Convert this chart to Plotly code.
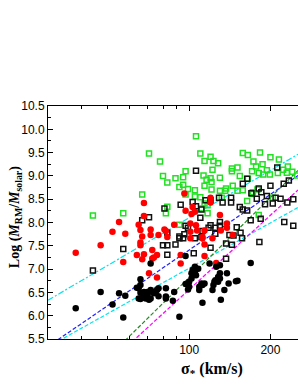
import math
import plotly.graph_objects as go

# ---- data (sigma in km/s, log M) ----
green_sigma = [44, 57, 67, 71, 106, 78, 110, 114, 120, 123, 128, 122, 97, 80, 89, 95, 83, 92, 95,
               113, 116, 120, 121, 130, 99, 105, 114, 130, 136, 145, 144, 144, 151, 158, 165, 183,
               200, 215, 232, 187, 173, 177, 171, 154, 165, 181, 188, 194, 199, 223, 230, 241, 251,
               213, 151, 158, 164, 171, 179, 132, 114, 110, 111, 105, 83, 82, 97, 117, 204, 181, 92,
               121, 137, 172, 117]
green_logm = [8.15, 8.20, 8.60, 9.48, 9.85, 9.31, 9.48, 9.32, 9.41, 9.32, 9.27, 9.13, 9.10, 9.00, 8.95,
              8.97, 8.86, 8.76, 8.81, 9.01, 8.92, 8.95, 8.87, 8.96, 8.72, 8.69, 8.79, 8.68, 8.68, 8.79,
              9.16, 9.10, 9.18, 9.49, 9.45, 9.50, 9.40, 9.35, 9.20, 9.25, 9.31, 9.20, 9.10, 9.00, 8.94,
              9.06, 9.03, 9.12, 9.03, 9.13, 9.07, 9.09, 9.01, 9.06, 8.68, 8.69, 8.46, 8.61, 8.71, 8.53,
              8.41, 8.54, 8.30, 8.56, 8.34, 8.20, 8.60, 8.20, 8.53, 8.16, 7.95, 8.71, 8.73, 8.65, 8.37]

bsq_sigma = [106, 158, 164, 170, 185, 200, 212, 224, 234, 243, 231, 218, 194, 178, 181, 154, 158, 164,
             169, 184, 191, 204, 209, 225, 243, 133, 143, 143, 129, 120, 115, 103, 106, 111, 93, 81,
             71, 110, 120, 125, 130, 130, 150, 141, 125, 118, 112, 96, 92, 97, 99, 83, 92, 95, 80, 83,
             89, 83, 105, 111, 104, 120, 137, 137, 144, 155, 157, 146, 182, 57, 44, 67]
bsq_logm = [9.11, 8.83, 8.94, 8.63, 8.65, 8.79, 9.18, 8.83, 8.90, 8.50, 8.43, 8.51, 8.57, 8.51, 8.73,
            8.33, 8.28, 8.26, 8.05, 8.08, 8.39, 8.41, 8.53, 8.01, 7.93, 8.43, 8.53, 8.43, 8.53, 8.48,
            8.48, 8.44, 8.35, 8.28, 8.38, 8.30, 8.11, 8.10, 7.94, 7.89, 7.93, 8.01, 7.90, 7.73, 7.76,
            7.89, 7.82, 7.75, 7.70, 7.93, 7.89, 7.78, 7.66, 7.66, 7.51, 7.51, 7.53, 7.31, 7.66, 7.69,
            7.34, 7.46, 7.22, 7.55, 7.52, 7.78, 7.66, 7.72, 7.58, 7.43, 6.97, 8.05]

red_sigma = [68, 52, 55, 58, 65, 66, 68, 72, 72, 38, 47, 66, 66, 64, 67, 68, 57, 71, 67, 73, 73, 76,
             77, 76, 81, 82, 88, 97, 103, 102, 105, 120, 120, 130, 138, 101, 106, 96, 101, 107, 114,
             112, 101, 122, 131, 138, 145, 83, 74, 93, 93, 112, 114, 126, 114]
red_logm = [8.42, 7.80, 8.01, 7.76, 7.95, 7.84, 8.14, 7.85, 7.73, 7.35, 7.51, 7.51, 7.57, 7.30, 7.21,
            7.32, 7.15, 6.91, 7.70, 7.41, 7.23, 7.30, 7.73, 6.82, 7.85, 7.82, 7.95, 8.25, 8.33, 8.18,
            8.23, 8.53, 8.43, 8.16, 7.98, 7.98, 7.94, 8.62, 7.80, 7.83, 7.83, 7.66, 7.66, 7.66, 7.83,
            7.89, 7.73, 7.69, 7.25, 7.30, 7.12, 7.69, 7.53, 7.13, 7.28]

bk_sigma = [38, 47, 52, 55, 58, 57, 64, 66, 66, 65, 68, 68, 66, 71, 72, 70, 65, 66, 69, 72, 73, 76, 77,
            70, 72, 75, 77, 82, 82, 88, 99, 100, 100, 102, 103, 105, 105, 106, 102, 109, 111, 112,
            114, 109, 119, 126, 130, 128, 125, 128, 123, 122, 135, 138, 140, 151, 131, 112, 92, 169,
            108, 97, 124, 130, 130, 149, 97, 87, 82, 74]
bk_logm = [6.16, 6.51, 6.24, 6.48, 6.43, 5.96, 6.60, 6.78, 6.66, 6.37, 6.44, 6.51, 6.49, 6.34, 7.12,
           6.44, 6.59, 6.36, 6.37, 6.37, 6.51, 6.55, 6.42, 6.51, 6.55, 6.51, 6.59, 6.59, 6.41, 6.51,
           6.56, 6.62, 6.73, 6.91, 6.98, 7.05, 6.94, 6.87, 6.80, 6.62, 6.69, 6.66, 6.69, 6.55, 7.12,
           7.05, 7.08, 6.83, 6.76, 6.73, 6.66, 6.55, 6.55, 6.91, 6.69, 6.75, 6.34, 6.28, 5.98, 7.13,
           7.01, 7.28, 6.73, 6.91, 6.80, 6.74, 6.68, 6.32, 6.37, 6.48]

# relations: logM = a + b*(log sigma - 2)
rel_a = [8.10, 7.02, 7.41, 6.82, 6.56]
rel_b = [3.38, 3.23, 3.96, 5.70, 5.30]
rel_color = ["#00e5ee", "#00e5ee", "#2020ff", "#228b22", "#ff00ff"]
rel_dash = ["6px,2px,2px,2px", "4px,2px", "4px,2px", "4px,2px", "4px,2px"]

x_lo, x_hi = 30, 253
xr = [math.log10(x_lo), math.log10(x_hi)]

fig = go.Figure()

for a, b, c, d in zip(rel_a, rel_b, rel_color, rel_dash):
    xs = [x_lo, x_hi]
    ys = [a + b * (math.log10(v) - 2) for v in xs]
    fig.add_trace(go.Scatter(x=xs, y=ys, mode="lines",
                             line=dict(color=c, width=1.2, dash=d), showlegend=False))

fig.add_trace(go.Scatter(x=green_sigma, y=green_logm, mode="markers",
                         marker=dict(symbol="square-open", size=5, color="#22e022",
                                     line=dict(width=1.5, color="#22e022")), showlegend=False))
fig.add_trace(go.Scatter(x=bsq_sigma, y=bsq_logm, mode="markers",
                         marker=dict(symbol="square-open", size=5, color="#111111",
                                     line=dict(width=1.5, color="#111111")), showlegend=False))
fig.add_trace(go.Scatter(x=red_sigma, y=red_logm, mode="markers",
                         marker=dict(symbol="circle", size=6.5, color="#ff0000"), showlegend=False))
fig.add_trace(go.Scatter(x=bk_sigma, y=bk_logm, mode="markers",
                         marker=dict(symbol="circle", size=6.5, color="#000000"), showlegend=False))

fig.update_layout(
    width=298, height=385,
    margin=dict(l=48, r=0, t=106, b=46, autoexpand=False),
    paper_bgcolor="white", plot_bgcolor="white",
    font=dict(family="Liberation Sans, Arial", size=12, color="black"),
    xaxis=dict(type="log", range=xr, showgrid=False, zeroline=False, automargin=False,
               showline=True, linecolor="black", linewidth=1, mirror="ticks",
               ticks="inside", ticklen=5, tickcolor="black",
               tickvals=[100, 200], ticktext=["100", "200"],
               minor=dict(tickvals=[40, 50, 60, 70, 80, 90], ticks="inside", ticklen=3,
                          tickcolor="black", showgrid=False),
               tickfont=dict(size=12)),
    yaxis=dict(range=[5.5, 10.5], showgrid=False, zeroline=False, automargin=False,
               showline=True, linecolor="black", linewidth=1, mirror=False,
               ticks="inside", ticklen=5, tickcolor="black", dtick=0.5, tick0=5.5,
               tickformat=".1f",
               minor=dict(dtick=0.25, ticks="inside", ticklen=3, tickcolor="black", showgrid=False),
               tickfont=dict(size=12)),
    annotations=[
        dict(text="<b>Log (<i>M</i><sub>RM</sub>/<i>M</i><sub>solar</sub>)</b>",
             xref="paper", yref="paper", x=-0.132, y=0.523, textangle=-90,
             xanchor="center", yanchor="middle",
             showarrow=False, font=dict(family="Liberation Serif, Times New Roman", size=14)),
        dict(text="<b>σ<sub>*</sub> (km/s)</b>",
             xref="paper", yref="paper", x=0.655, y=-0.133,
             xanchor="center", yanchor="middle",
             showarrow=False, font=dict(family="Liberation Serif, Times New Roman", size=16)),
    ],
)

fig.write_html("out.html", config={"displayModeBar": False},
               post_script="document.body.style.margin='0';document.body.style.overflow='hidden';")
